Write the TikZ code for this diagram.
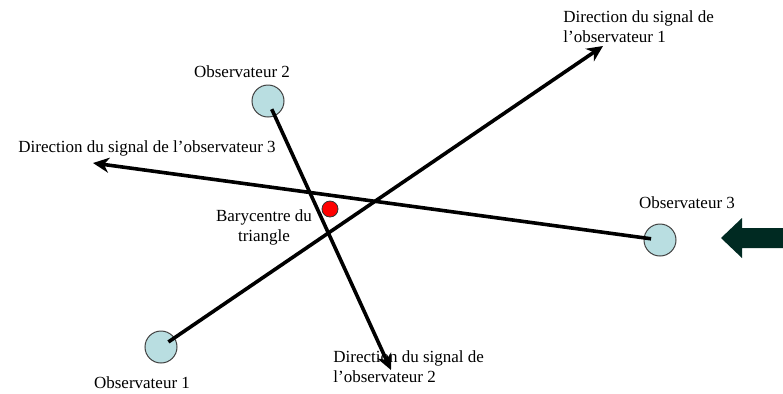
\documentclass[tikz,border=0pt]{standalone}
\usepackage{fontspec}
\setmainfont{Liberation Serif}
\usetikzlibrary{arrows.meta}
\definecolor{obsblue}{HTML}{B9DEE1}
\definecolor{darkarrow}{HTML}{002A22}

\begin{document}
\begin{tikzpicture}[x=0.5pt, y=-0.5pt,
  obs/.style={circle, draw=black!75, line width=0.5pt, fill=obsblue, minimum size=16pt, inner sep=0pt},
  bary/.style={circle, draw=black!80, line width=0.4pt, fill=red, minimum size=8pt, inner sep=0pt},
  lbl/.style={font=\fontsize{8.5}{10}\selectfont, inner sep=0pt},
  sig/.style={-{Stealth[length=8pt, width=7.5pt, inset=2.5pt]}, line width=1.8pt, shorten <=4.5pt}
]
  \useasboundingbox (0,0) rectangle (783,393);

  \node[obs] (o1) at (161,347) {};
  \node[obs] (o2) at (268,101) {};
  \node[obs] (o3) at (660,240) {};
  \node[bary] (g) at (330,209) {};

  \coordinate (t1) at (603,46);
  \coordinate (t2) at (391,370);
  \coordinate (t3) at (93,163);

  \node[lbl, anchor=west, align=left] (d1) at (563,27) {Direction du signal de\\l’observateur 1};
  \node[lbl, anchor=west, align=left] (d2) at (333,367) {Direction du signal de\\l’observateur 2};
  \node[lbl] (d3) at (147,148) {Direction du signal de l’observateur 3};
  \node[lbl, align=center] (gl) at (264,227) {Barycentre du\\triangle};
  \node[lbl] (l1) at (142,383) {Observateur 1};
  \node[lbl] (l2) at (242,72) {Observateur 2};
  \node[lbl] (l3) at (687,203) {Observateur 3};

  \draw[sig] (o1.center) -- (t1);
  \draw[sig] (o2.center) -- (t2);
  \draw[sig] (o3.center) -- (t3);

  \fill[darkarrow] (721,238) -- (742,218) -- (742,228) -- (785,228)
    -- (785,248) -- (742,248) -- (742,258) -- cycle;
\end{tikzpicture}
\end{document}
